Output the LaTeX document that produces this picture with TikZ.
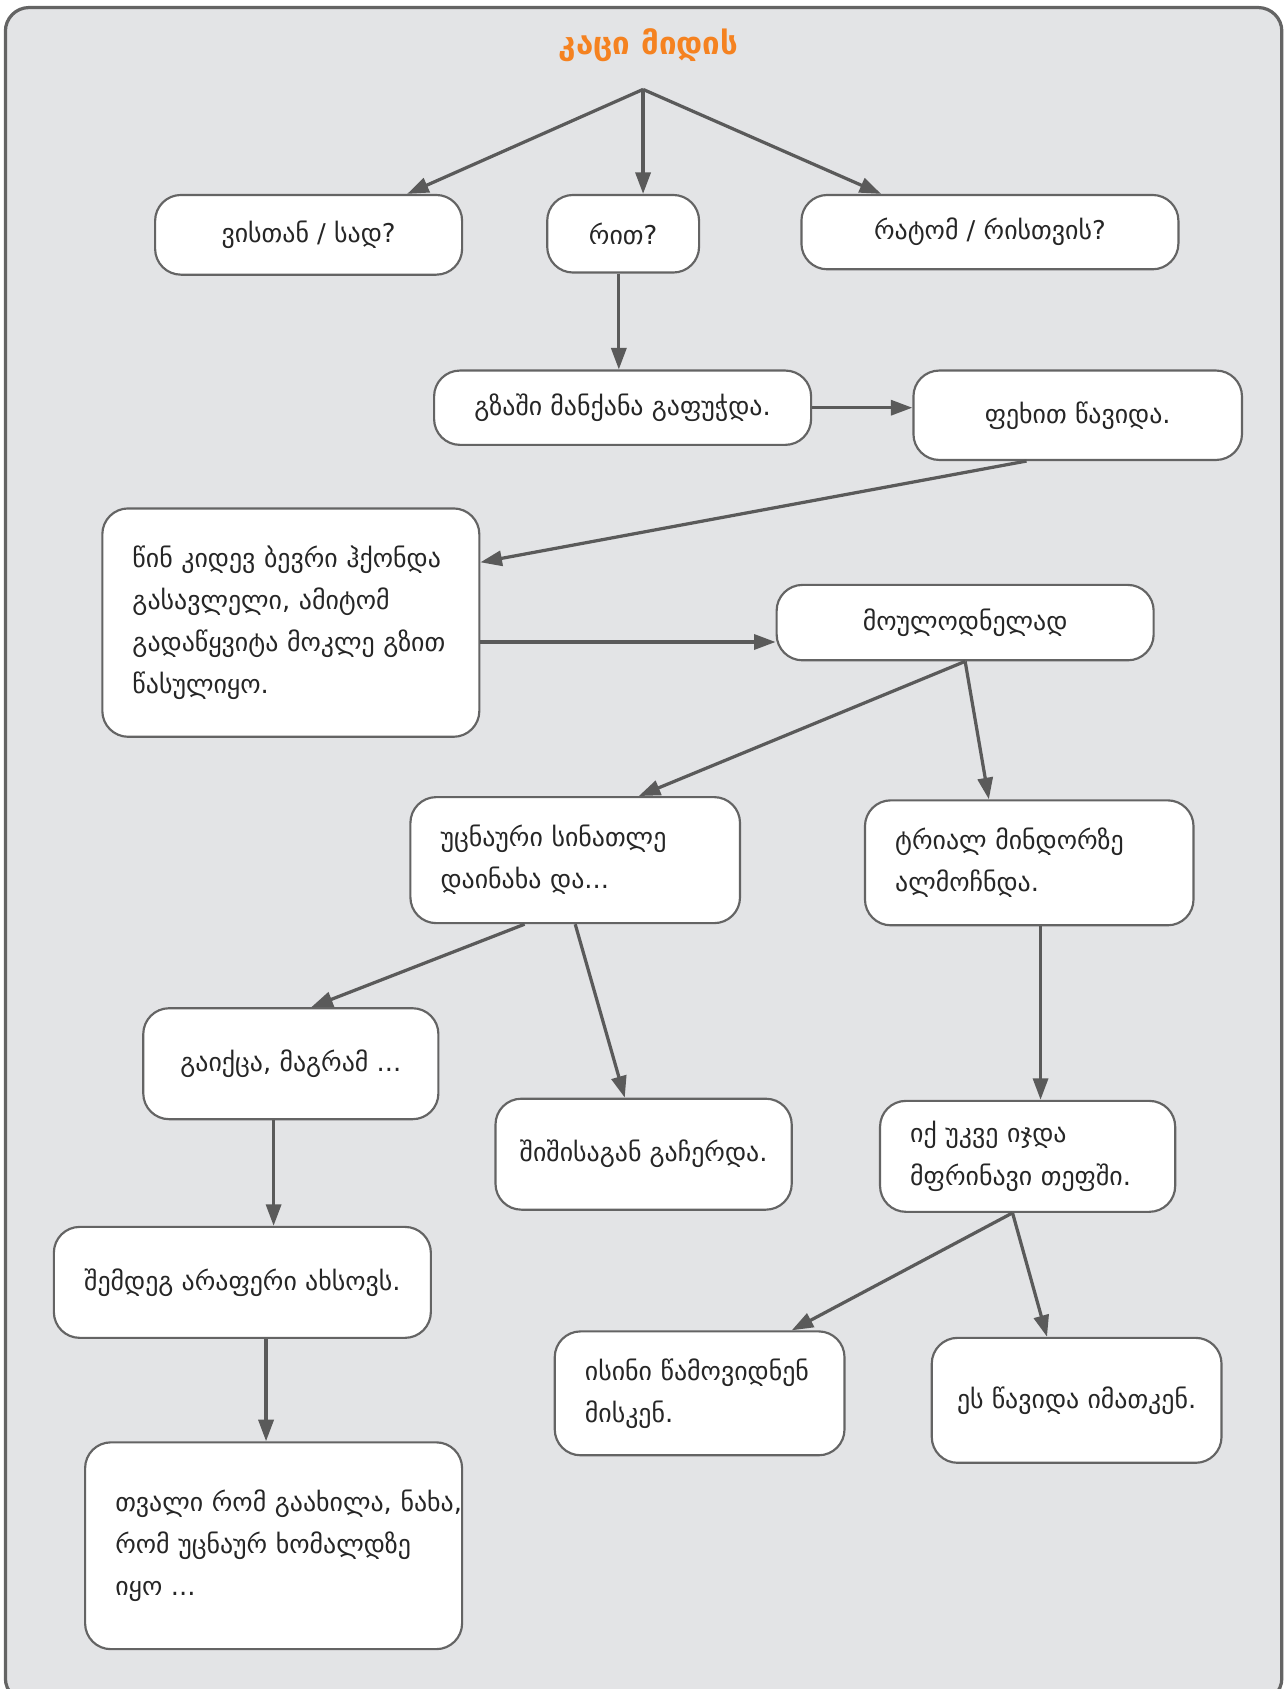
\documentclass[tikz,border=0pt]{standalone}
\usepackage{fontspec}
\setmainfont{DejaVu Sans}
\usetikzlibrary{arrows.meta, calc}
\definecolor{FrameBG}{RGB}{227,228,230}
\definecolor{FrameRule}{RGB}{100,100,100}
\definecolor{LineGray}{RGB}{90,90,90}
\definecolor{TitleOrange}{RGB}{245,130,32}

\begin{document}
\begin{tikzpicture}[
  x=0.5pt, y=-0.5pt,
  every node/.style={font=\fontsize{12}{19.5}\selectfont, text=black!85},
  box/.style={draw=FrameRule, fill=white, rounded corners=12pt, line width=1pt,
              align=center, inner sep=0pt},
  lbox/.style={box, align=left, inner xsep=14pt},
  arrow/.style={-{Triangle[length=10pt,width=7pt]}, draw=LineGray, line width=1.5pt},
  title/.style={font=\fontsize{14.5}{16}\selectfont\bfseries, text=TitleOrange}
]
\useasboundingbox (0,0) rectangle (1195,1568);
\draw[draw=FrameRule, fill=FrameBG, line width=1.5pt, rounded corners=11pt] (5,7) rectangle (1190,1580);

\node[title] (title) at (602,42) {კაცი მიდის};
\coordinate (fork) at (597,83);

\node[box, minimum width=142.5pt, minimum height=37pt] (where) at (286.5,218) {ვისთან / სად?};
\node[box, minimum width=70.5pt, minimum height=36pt] (how) at (578.5,217) {რით?};
\node[box, minimum width=175pt, minimum height=34.5pt] (why) at (919,215.5) {რატომ / რისთვის?};
\node[box, minimum width=175pt, minimum height=34.5pt] (car) at (578,378.5) {გზაში მანქანა გაფუჭდა.};
\node[box, minimum width=152.5pt, minimum height=41.5pt] (walk) at (1000.5,385.5) {ფეხით წავიდა.};
\node[lbox, text width=147pt, minimum height=106pt] (short) at (270,578)
  {წინ კიდევ ბევრი ჰქონდა\\ გასავლელი, ამიტომ\\ გადაწყვიტა მოკლე გზით\\ წასულიყო.};
\node[box, minimum width=175pt, minimum height=35pt] (sudden) at (896,578) {მოულოდნელად};
\node[lbox, text width=125pt, minimum height=58.5pt] (light) at (534,798.5)
  {უცნაური სინათლე\\ დაინახა და...};
\node[lbox, text width=124.5pt, minimum height=58pt] (field) at (955.5,801)
  {ტრიალ მინდორზე\\ ალმოჩნდა.};
\node[box, minimum width=137pt, minimum height=51.5pt] (ran) at (270,987.5) {გაიქცა, მაგრამ ...};
\node[box, minimum width=137.5pt, minimum height=51.5pt] (froze) at (597.5,1071.5) {შიშისაგან გაჩერდა.};
\node[lbox, text width=109pt, minimum height=51.5pt] (ufo) at (954,1073.5)
  {იქ უკვე იჯდა\\ მფრინავი თეფში.};
\node[box, minimum width=175pt, minimum height=51.5pt] (blank) at (225,1190.5) {შემდეგ არაფერი ახსოვს.};
\node[lbox, text width=147pt, minimum height=96pt] (ship) at (254,1435)
  {\mbox{თვალი რომ გაახილა, ნახა,}\\ რომ უცნაურ ხომალდზე\\ იყო ...};
\node[lbox, text width=106.5pt, minimum height=57.5pt] (came) at (649.5,1293.5)
  {ისინი წამოვიდნენ\\ მისკენ.};
\node[box, minimum width=134.5pt, minimum height=58pt] (went) at (999.5,1300) {ეს წავიდა იმათკენ.};

\draw[arrow] (fork) -- ([xshift=45.75pt]where.north);
\draw[arrow] (fork) -- (fork |- how.north);
\draw[arrow] (fork) -- ([xshift=-50.5pt]why.north);
\draw[arrow] ([xshift=-2pt]how.south) -- ([xshift=-2pt]how.south |- car.north);
\draw[arrow] (car.east) -- (car.east -| walk.west);
\draw[arrow] ([xshift=-23.75pt]walk.south) -- ([yshift=28pt]short.east);
\draw[arrow] ([yshift=-9pt]short.east) -- ([yshift=-9pt]short.east -| sudden.west);
\draw[arrow] (sudden.south) -- ([xshift=29.5pt]light.north);
\draw[arrow] (sudden.south) -- ([xshift=-18.75pt]field.north);
\draw[arrow] ([xshift=-23.5pt]light.south) -- ([xshift=9.5pt]ran.north);
\draw[arrow] (light.south) -- ([xshift=-8.75pt]froze.north);
\draw[arrow] ([xshift=5.25pt]field.south) -- ([xshift=5.25pt]field.south |- ufo.north);
\draw[arrow] ([xshift=-8pt]ran.south) -- ([xshift=-8pt]ran.south |- blank.north);
\draw[arrow] ([xshift=11pt]blank.south) -- ([xshift=11pt]blank.south |- ship.north);
\draw[arrow] ([xshift=-7pt]ufo.south) -- ([xshift=42.75pt]came.north);
\draw[arrow] ([xshift=-7pt]ufo.south) -- ([xshift=-13.75pt]went.north);
\end{tikzpicture}
\end{document}
